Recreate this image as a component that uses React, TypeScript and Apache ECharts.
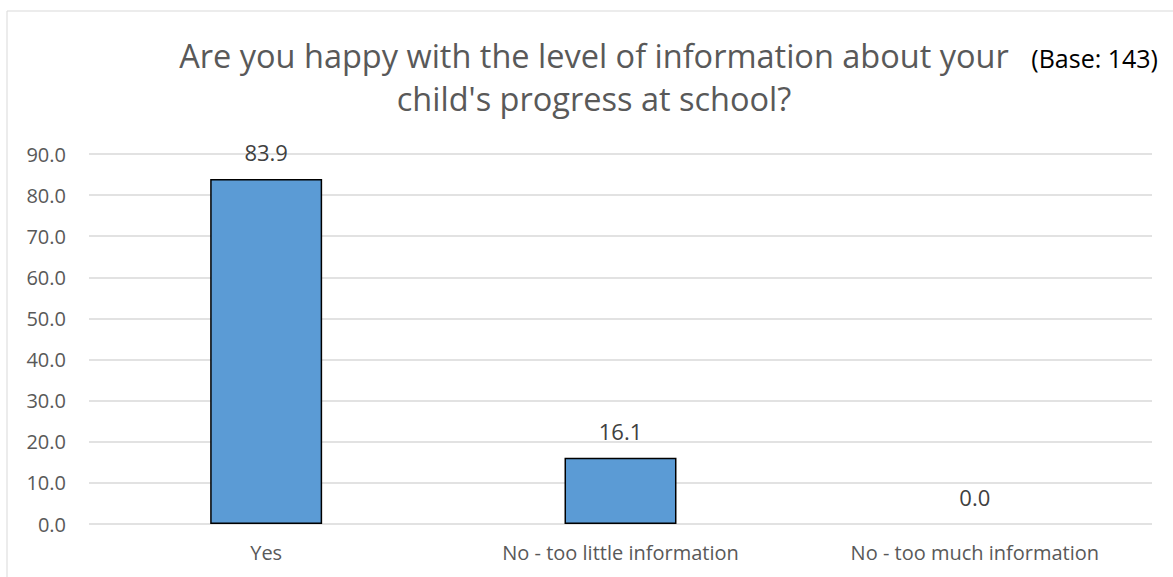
import React, { useEffect, useRef } from "react";
import * as echarts from "echarts";

const categories = ["Yes", "No - too little information", "No - too much information"];
const values = [83.9, 16.1, 0.0];
const yTicks = [0, 10, 20, 30, 40, 50, 60, 70, 80, 90];
const titleLines = ["Are you happy with the level of information about your", "child's progress at school?"];
const baseNote = "(Base: 143)";

const FONT = "'Open Sans', Lato, sans-serif";

export default function App() {
  const ref = useRef<HTMLDivElement>(null);
  useEffect(() => {
    if (!ref.current) return;
    const chart = echarts.init(ref.current, undefined, { renderer: "svg" });
    chart.setOption({
      animation: false,
      backgroundColor: "#ffffff",
      textStyle: { fontFamily: FONT },
      title: {
        text: titleLines.join("\n"),
        left: 589,
        top: 29,
        textAlign: "center",
        textStyle: { fontFamily: FONT, fontSize: 32.5, fontWeight: "normal", color: "#595959", lineHeight: 43 },
      },
      graphic: [
        {
          type: "rect",
          shape: { x: 7, y: 11, width: 1175, height: 575 },
          style: { fill: "none", stroke: "#D9D9D9", lineWidth: 1 },
          silent: true,
          z: -1,
        },
        {
          type: "text",
          x: 1158,
          y: 70,
          style: { text: baseNote, fontFamily: FONT, fontSize: 25, fill: "#000000", textAlign: "right", textVerticalAlign: "bottom" },
        },
      ],
      grid: { left: 89, right: 21, top: 154, bottom: 53, containLabel: false, outerBoundsMode: "none" },
      xAxis: {
        type: "category",
        data: categories,
        axisLine: { show: false },
        axisTick: { show: false },
        axisLabel: { color: "#595959", fontSize: 20, fontFamily: FONT, margin: 18 },
      },
      yAxis: {
        type: "value",
        min: yTicks[0],
        max: yTicks[yTicks.length - 1],
        interval: 10,
        axisLine: { show: false },
        axisTick: { show: false },
        axisLabel: { color: "#595959", fontSize: 20, fontFamily: FONT, margin: 23, formatter: (v: number) => v.toFixed(1) },
        splitLine: { lineStyle: { color: "#D9D9D9", width: 1.5 } },
      },
      series: [
        {
          type: "bar",
          data: values.map((v) => (v === 0 ? { value: v, itemStyle: { borderWidth: 0 } } : v)),
          barWidth: "31.6%",
          itemStyle: { color: "#5B9BD5", borderColor: "#000000", borderWidth: 1.5 },
          label: {
            show: true,
            position: "top",
            distance: 16,
            color: "#404040",
            fontSize: 22,
            fontFamily: FONT,
            formatter: (p: any) => Number(p.value).toFixed(1),
          },
        },
      ],
    });
    return () => chart.dispose();
  }, []);
  return <div ref={ref} style={{ width: 1173, height: 577, position: "absolute", left: 0, top: 0 }} />;
}
